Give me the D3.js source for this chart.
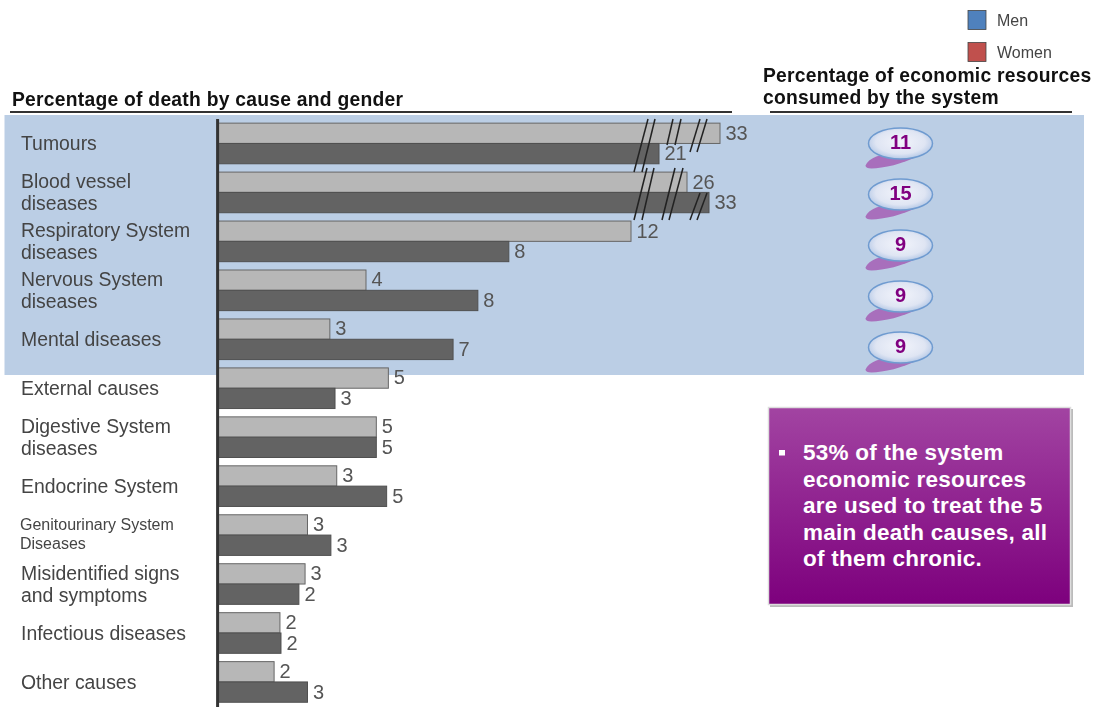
<!DOCTYPE html>
<html><head><meta charset="utf-8">
<script src="https://cdn.jsdelivr.net/npm/d3@7/dist/d3.min.js"></script>
<style>html,body{margin:0;padding:0;background:#fff;overflow:hidden}svg{display:block;filter:blur(0.45px)}text{font-family:"Liberation Sans",Arial,sans-serif}</style>
</head><body><div id="chart"></div>
<script>
const causes=[["Tumours"],["Blood vessel","diseases"],["Respiratory System","diseases"],["Nervous System","diseases"],["Mental diseases"],["External causes"],["Digestive System","diseases"],["Endocrine System"],["Genitourinary System","Diseases"],["Misidentified signs","and symptoms"],["Infectious diseases"],["Other causes"]];
const lightValues=[33.4,26,12,4.3,3.25,4.95,4.6,3.45,2.6,2.53,1.8,1.63];
const darkValues=[21,32.6,8.45,7.55,6.83,3.4,4.6,4.9,3.28,2.35,1.83,2.6];
const lightLabels=[33,26,12,4,3,5,5,3,3,3,2,2];
const darkLabels=[21,33,8,8,7,3,5,5,3,2,2,3];
const resources=[11,15,9,9,9];
const legendNames=["Men","Women"];
const legendColors=["#4f81bd","#c0504d"];
const calloutLines=["53% of the system","economic resources","are used to treat the 5","main death causes, all","of them chronic."];

const W=1106,H=707;
const svg=d3.select("#chart").append("svg").attr("width",W).attr("height",H);
const defs=svg.append("defs");
const g1=defs.append("linearGradient").attr("id","box").attr("x1",0).attr("x2",0).attr("y1",0).attr("y2",1);
g1.append("stop").attr("offset","0").attr("stop-color","#a244a2");
g1.append("stop").attr("offset","1").attr("stop-color","#7d007d");
const g2=defs.append("radialGradient").attr("id","pill").attr("cx","0.5").attr("cy","0.45").attr("r","0.55");
g2.append("stop").attr("offset","0").attr("stop-color","#f2f4fb");
g2.append("stop").attr("offset","0.7").attr("stop-color","#dfe5f3");
g2.append("stop").attr("offset","1").attr("stop-color","#b4c8e6");

// piecewise scale: the value axis is broken above 12
const x=d3.scaleLinear().domain([0,12,21,26,32.6,33.4]).range([218,631,659,687,709,720]);
const y=d3.scaleBand().domain(d3.range(causes.length)).range([120.2,705.2]).paddingInner(0.17).paddingOuter(0.06);
const sub=d3.scaleBand().domain([0,1]).range([0,y.bandwidth()]);
const pillY=d3.scalePoint().domain(d3.range(resources.length)).range([143.5,347.5]);

svg.append("rect").attr("x",4.5).attr("y",115).attr("width",1079.5).attr("height",260).attr("fill","#bbcee5");

// legend
const legY=d3.scalePoint().domain(legendNames).range([20,52]);
legendNames.forEach((n,i)=>{
 svg.append("rect").attr("x",968).attr("y",legY(n)-9.5).attr("width",18).attr("height",19).attr("fill",legendColors[i]).attr("stroke","#444").attr("stroke-width",0.8);
 svg.append("text").attr("x",997).attr("y",legY(n)+6).attr("font-size",16).attr("fill","#444").text(n);
});

// titles
const title=(t,xp,yp)=>svg.append("text").attr("x",xp).attr("y",yp).attr("font-size",19.3).attr("letter-spacing",0.25).attr("font-weight","bold").attr("fill","#111").text(t);
title("Percentage of death by cause and gender",12,105.5);
title("Percentage of economic resources",763,81.5);
title("consumed by the system",763,104);
svg.append("line").attr("x1",10).attr("x2",732).attr("y1",112).attr("y2",112).attr("stroke","#333").attr("stroke-width",2);
svg.append("line").attr("x1",770).attr("x2",1072).attr("y1",112).attr("y2",112).attr("stroke","#333").attr("stroke-width",2);

// bars
const rows=svg.append("g").selectAll("g").data(causes).join("g").attr("transform",(d,i)=>`translate(0,${y(i)})`);
rows.append("rect").attr("x",x(0)).attr("y",sub(0)).attr("height",sub.bandwidth()).attr("width",(d,i)=>x(lightValues[i])-x(0)).attr("fill","#b7b7b7").attr("stroke","#666").attr("stroke-width",1);
rows.append("rect").attr("x",x(0)).attr("y",sub(1)).attr("height",sub.bandwidth()).attr("width",(d,i)=>x(darkValues[i])-x(0)).attr("fill","#636363").attr("stroke","#505050").attr("stroke-width",1);
rows.append("text").attr("x",(d,i)=>x(lightValues[i])+5.5).attr("y",sub(0)+16.5).attr("font-size",20).attr("fill","#555").text((d,i)=>lightLabels[i]);
rows.append("text").attr("x",(d,i)=>x(darkValues[i])+5.5).attr("y",sub(1)+17).attr("font-size",20).attr("fill","#555").text((d,i)=>darkLabels[i]);

// axis line
svg.append("line").attr("x1",217.6).attr("x2",217.6).attr("y1",119).attr("y2",707).attr("stroke","#333").attr("stroke-width",3);

// break marks across the bars of the broken axis
[[648,634,119,172],[655,642,119,172],[673,667,119,145],[681,675,119,145],[700,690,119,152],[707,697,119,152],
 [647,634,168,220],[654,642,168,220],[675,662,168,220],[683,669,168,220],[700,690,193,220],[707,697,193,220]]
 .forEach(([a,b,c,d])=>svg.append("line").attr("x1",a).attr("x2",b).attr("y1",c).attr("y2",d).attr("stroke","#222").attr("stroke-width",1.5));

// category labels
const catLabels=svg.append("g").selectAll("text").data(causes).join("text").attr("fill","#444")
 .attr("font-size",(d,i)=>i===8?16:19.4);
catLabels.each(function(d,i){
 const cy=y(i)+y.bandwidth()/2;
 const lh=i===8?19:22.5;
 const top=cy-(d.length-1)*lh/2+(i===8?4.5:6.8);
 d3.select(this).selectAll("tspan").data(d).join("tspan").attr("x",i===8?20:21).attr("y",(t,k)=>top+k*lh).text(t=>t);
});

// resource pills
const pills=svg.append("g").selectAll("g").data(resources).join("g").attr("transform",(d,i)=>`translate(900.5,${pillY(i)})`);
pills.append("path").attr("d","M-35,22 C-32,14 -18,10 -8,10 L16,13 C4,20 -18,25 -29,25 Q-35,25 -35,22 Z").attr("fill","#a86fbc");
pills.append("ellipse").attr("rx",32).attr("ry",15.5).attr("fill","url(#pill)").attr("stroke","#6f9bd0").attr("stroke-width",1.5);
pills.append("text").attr("text-anchor","middle").attr("y",5.5).attr("font-size",20).attr("font-weight","bold").attr("fill","#800080").text(d=>d);

// callout
svg.append("rect").attr("x",770).attr("y",409).attr("width",303).attr("height",198).attr("fill","#bbb");
svg.append("rect").attr("x",768.5).attr("y",407.5).attr("width",302).attr("height",197).attr("fill","url(#box)").attr("stroke","#ddd").attr("stroke-width",1.5);
svg.append("rect").attr("x",779).attr("y",450).attr("width",6).attr("height",5.5).attr("fill","#fff");
svg.append("g").selectAll("text").data(calloutLines).join("text").attr("x",803).attr("y",(d,i)=>460+i*26.5).attr("font-size",22.5).attr("letter-spacing",0.25).attr("font-weight","bold").attr("fill","#fff").text(d=>d);
</script></body></html>
